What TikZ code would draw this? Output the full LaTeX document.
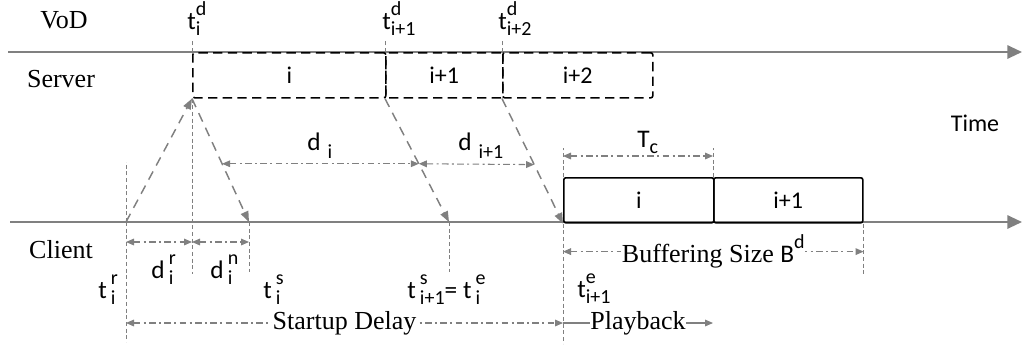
\documentclass[tikz,border=0pt]{standalone}
\usepackage{fontspec}
\setmainfont{Liberation Serif}
\setsansfont{Carlito}
\usetikzlibrary{arrows.meta,calc}
\definecolor{axisgray}{RGB}{128,128,128}
% letter with a stacked super- and subscript
\newcommand{\tlab}[4][4.5pt]{#2\begingroup\fontsize{15}{15}\selectfont
  \setbox0=\hbox{\raisebox{10pt}{#3}}\setbox2=\hbox{\raisebox{-#1}{#4}}%
  \ifdim\wd0>\wd2 \rlap{\box2}\box0\else\rlap{\box0}\box2\fi\endgroup}
\tikzset{
  axis/.style={draw=axisgray, line width=1.5pt, -{Triangle[length=11pt,width=10pt]}},
  guide/.style={draw=axisgray, line width=0.5pt, dash pattern=on 3pt off 2pt},
  msg/.style={draw=axisgray, line width=1.1pt, dash pattern=on 7pt off 5pt,
    -{Triangle[length=8pt,width=6pt]}},
  span/.style={draw=axisgray, line width=0.8pt, dash pattern=on 5pt off 2.5pt on 1.5pt off 2.5pt,
    {Triangle[length=6pt,width=5pt]}-{Triangle[length=6pt,width=5pt]}},
  srvbox/.style={draw, line width=1.2pt, dash pattern=on 7pt off 4pt, rounded corners=1.5pt,
    minimum height=33.75pt, anchor=north west, inner sep=0pt,
    font=\sffamily\fontsize{18}{20}\selectfont},
  clibox/.style={srvbox, solid},
  sym/.style={inner sep=0pt, anchor=base west, font=\sffamily\fontsize{19}{21}\selectfont},
  side/.style={font=\fontsize{19.5}{22}\selectfont},
  onspan/.style={side, fill=white, text=black, inner sep=0.5pt},
}

\begin{document}
\begin{tikzpicture}[x=0.75pt, y=-0.75pt]
    \useasboundingbox (0,0) rectangle (1022,351);
    \coordinate (srvL) at (8,52);
    \coordinate (srvR) at (1022,52);
    \coordinate (cliL) at (10,222);
    \coordinate (cliR) at (1022,222);
    \coordinate (req) at (126,222);
    \coordinate (arrI) at (249,222);
    \coordinate (arrIa) at (449,222);
    \draw[axis] (srvL) -- (srvR);
    \draw[axis] (cliL) -- (cliR);

    \node[srvbox, minimum width=144.75pt] (segI) at (192,52) {i};
    \node[srvbox, minimum width=87.75pt] (segIa) at (385,52) {i+1};
    \node[srvbox, minimum width=112.5pt] (segIb) at (502,52) {i+2};

    \draw[guide] (segI.north west) -- ++(0,-13);
    \draw[guide] (segIa.north west) -- ++(0,-13);
    \draw[guide] (segIb.north west) -- ++(0,-13);
    \draw[guide] (segI.south west) -- ++(0,175);
    \draw[guide] (req) -- ++(0,-60) (req) -- ++(0,120);
    \draw[guide] (arrI) -- ++(0,50);
    \draw[guide] (arrIa) -- ++(0,50);

    \node[clibox, minimum width=112.5pt] (bufI) at (563,177) {i};
    \node[clibox, minimum width=111.75pt] (bufIa) at (713,177) {i+1};
    \draw[guide] (bufI.north west) -- ++(0,-29);
    \draw[guide] (bufIa.north west) -- ++(0,-29);
    \draw[guide] (bufI.south west) -- ++(0,120);
    \draw[guide] (bufIa.south east) -- ++(0,50);

    \draw[msg] (req) -- (segI.south west);
    \draw[msg] (segI.south west) -- (arrI);
    \draw[msg] (segIa.south west) -- (arrIa);
    \draw[msg] (segIb.south west) -- (bufI.south west);

    \path ($(segI.south west)!.528!(arrI)$) coordinate (diL);
    \path ($(segIa.south west)!.528!(arrIa)$) coordinate (diM);
    \path ($(segIb.south west)!.528!(bufI.south west)$) coordinate (diR);
    \draw[span] (diL) -- (diM);
    \draw[span] (diM) -- (diR);
    \draw[span] ($(req)+(0,20)$) coordinate (drL) -- (drL -| segI.south west) coordinate (drM);
    \draw[span] (drM) -- (drM -| arrI);
    \draw[span] ($(bufI.north west)+(0,-21)$) coordinate (tcL) -- (tcL -| bufIa.north west);
    \draw[span] ($(bufI.south west)+(0,28)$) coordinate (bsL) -- (bsL -| bufIa.south east)
      node[onspan, midway] (bufsize) {Buffering Size {\sffamily\fontsize{19}{21}\selectfont\tlab{B}{d}{}}};
    \draw[span] ($(req)+(0,101)$) coordinate (sdL) -- (sdL -| bufI.south west) coordinate (sdR)
      node[onspan, midway] (startup) {Startup Delay};
    \draw[axisgray, line width=0.8pt, -{Triangle[length=6pt,width=5pt]}] (sdR) -- (sdR -| bufIa.south west)
      node[onspan, midway] (play) {Playback};

    \node[side] (vod) at (64,20) {VoD};
    \node[side] (server) at (61,79) {Server};
    \node[side] (client) at (61,250) {Client};
    \node[sym, anchor=center, font=\sffamily\fontsize{18}{20}\selectfont] (time) at (975,123) {Time};

    \node[sym] (tdI) at (187,29) {\tlab{t}{d}{i}};
    \node[sym] (tdIa) at (382,29) {\tlab{t}{d}{i+1}};
    \node[sym] (tdIb) at (498,29) {\tlab{t}{d}{i+2}};
    \node[sym] (dI) at (307,150) {\tlab[6pt]{d\;}{}{i}};
    \node[sym] (dIa) at (458,150) {\tlab[6pt]{d\;}{}{i+1}};
    \node[sym] (tc) at (637,147) {\tlab{T}{}{c}};
    \node[sym] (dr) at (151,278) {\tlab[5pt]{d\,}{r}{i}};
    \node[sym] (dn) at (210,278) {\tlab[5pt]{d\,}{n}{i}};
    \node[sym] (tr) at (98,298) {\tlab[4.5pt]{t\,}{r}{i}};
    \node[sym] (ts) at (263,298) {\tlab[4.5pt]{t\,}{s}{i}};
    \node[sym] (tsIa) at (407,298) {\tlab[4.5pt]{t\,}{s}{i+1}= \tlab[4.5pt]{t\,}{e}{i}};
    \node[sym] (teIa) at (577,297) {\tlab{t}{e}{i+1}};
\end{tikzpicture}
\end{document}
